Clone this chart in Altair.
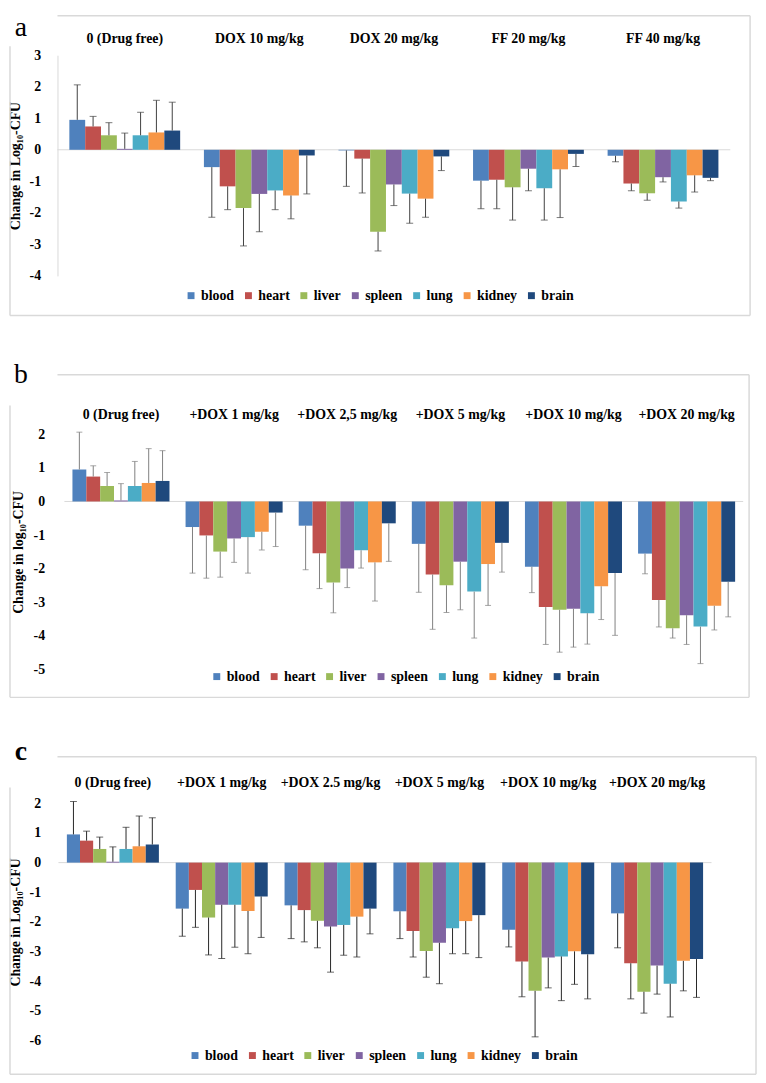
import altair as alt
import pandas as pd

ORGANS = ["blood", "heart", "liver", "spleen", "lung", "kidney", "brain"]
COLORS = ["#4F81BD", "#C0504D", "#9BBB59", "#8064A2", "#4BACC6", "#F79646", "#1F497D"]

DRUG_FREE_MEAN = [0.95, 0.74, 0.46, 0.03, 0.46, 0.55, 0.61]
DRUG_FREE_END = [2.06, 1.06, 0.86, 0.53, 1.19, 1.57, 1.51]

A_GROUPS = ["0 (Drug free)", "DOX 10 mg/kg", "DOX 20 mg/kg", "FF 20 mg/kg", "FF 40 mg/kg"]
A_MEAN = [
    DRUG_FREE_MEAN,
    [-0.55, -1.16, -1.85, -1.40, -1.29, -1.45, -0.18],
    [-0.02, -0.28, -2.60, -1.10, -1.39, -1.55, -0.21],
    [-0.98, -0.95, -1.19, -0.60, -1.22, -0.62, -0.13],
    [-0.19, -1.07, -1.38, -0.87, -1.64, -0.81, -0.89],
]
A_END = [
    DRUG_FREE_END,
    [-2.14, -1.90, -3.05, -2.60, -1.90, -2.19, -1.40],
    [-1.16, -1.37, -3.21, -1.77, -2.33, -2.14, -0.66],
    [-1.87, -1.87, -2.23, -1.30, -2.23, -2.15, -0.53],
    [-0.38, -1.30, -1.60, -1.02, -1.85, -1.34, -0.98],
]

B_GROUPS = ["0 (Drug free)", "+DOX 1 mg/kg", "+DOX 2,5 mg/kg", "+DOX 5 mg/kg",
            "+DOX 10 mg/kg", "+DOX 20 mg/kg"]
B_MEAN = [
    DRUG_FREE_MEAN,
    [-0.76, -1.01, -1.49, -1.10, -1.06, -0.90, -0.33],
    [-0.72, -1.54, -2.41, -1.99, -1.45, -1.81, -0.65],
    [-1.26, -2.17, -2.49, -1.79, -2.68, -1.86, -1.23],
    [-1.94, -3.14, -3.22, -3.19, -3.32, -2.52, -2.13],
    [-1.55, -2.93, -3.77, -3.38, -3.72, -3.10, -2.39],
]
B_END = [
    DRUG_FREE_END,
    [-2.13, -2.28, -2.25, -1.81, -2.13, -1.44, -1.34],
    [-2.03, -2.59, -3.31, -2.56, -1.98, -2.96, -1.78],
    [-2.70, -3.80, -3.30, -3.22, -4.06, -3.09, -2.10],
    [-2.71, -4.25, -4.48, -4.33, -4.24, -3.51, -3.98],
    [-2.15, -3.73, -4.06, -4.25, -4.82, -3.82, -3.43],
]

C_GROUPS = ["0 (Drug free)", "+DOX 1 mg/kg", "+DOX 2.5 mg/kg", "+DOX 5 mg/kg",
            "+DOX 10 mg/kg", "+DOX 20 mg/kg"]
C_MEAN = [
    DRUG_FREE_MEAN,
    [-1.55, -0.92, -1.85, -1.42, -1.42, -1.63, -1.14],
    [-1.44, -1.60, -1.96, -2.15, -2.10, -1.82, -1.55],
    [-1.64, -2.30, -2.98, -2.70, -2.21, -1.97, -1.77],
    [-2.26, -3.33, -4.32, -3.20, -3.16, -2.99, -3.09],
    [-1.71, -3.39, -4.35, -3.47, -4.08, -3.31, -3.25],
]
C_END = [
    DRUG_FREE_END,
    [-2.48, -2.18, -3.11, -3.23, -2.85, -3.07, -2.52],
    [-2.56, -2.67, -2.87, -3.69, -3.12, -3.18, -2.40],
    [-2.56, -3.18, -3.86, -4.08, -3.07, -3.07, -3.20],
    [-2.84, -4.52, -5.87, -4.22, -4.65, -4.10, -4.59],
    [-2.87, -4.59, -5.07, -4.43, -5.20, -4.32, -4.54],
]

FONT = "Liberation Serif, Times New Roman, serif"
FRAME = "#D9D9D9"
ONE = alt.Data(values=[{"k": 0}])


def panel(letter, letter_bold, letter_y, groups, mean, end, ymin, ymax, ytitle,
          W, H, L, R, ytop, ybot, po, label_y, legx, legy, lab_pad, title_x,
          cap, err_color, show_domain):
    rows = []
    for i, g in enumerate(groups):
        for j, o in enumerate(ORGANS):
            rows.append({"group": g, "organ": o, "value": mean[i][j], "end": end[i][j]})
    df = pd.DataFrame(rows)
    gdf = pd.DataFrame({"group": groups})

    x = alt.X("group:N", sort=groups,
              scale=alt.Scale(range=[L, R], paddingInner=0, paddingOuter=0),
              axis=None)
    xo = alt.XOffset("organ:N", sort=ORGANS,
                     scale=alt.Scale(paddingInner=0, paddingOuter=po))

    def yenc(field):
        return alt.Y(field, type="quantitative",
                     scale=alt.Scale(domain=[ymin, ymax], range=[ybot, ytop],
                                     nice=False, zero=False),
                     axis=alt.Axis(values=list(range(ymin, ymax + 1)), title=ytitle,
                                   grid=False, ticks=False, domain=show_domain,
                                   domainColor=FRAME, domainWidth=1,
                                   offset=-L, labelPadding=lab_pad,
                                   labelFont=FONT, labelFontSize=14,
                                   labelFontWeight="bold", labelColor="black",
                                   labelFlush=False,
                                   labelExpr="datum.value < 0 ? '-' + abs(datum.value) : '' + datum.value",
                                   titleFont=FONT, titleFontSize=14,
                                   titleFontWeight="bold", titleColor="black",
                                   titleX=title_x, titleBaseline="middle"))

    color = alt.Color("organ:N", sort=ORGANS,
                      scale=alt.Scale(domain=ORGANS, range=COLORS),
                      legend=alt.Legend(orient="none", legendX=legx, legendY=legy,
                                        direction="horizontal", columns=7, title=None,
                                        symbolType="square", symbolSize=49,
                                        symbolStrokeWidth=0, labelFont=FONT,
                                        labelFontSize=14, labelFontWeight="bold",
                                        labelColor="black", labelOffset=3,
                                        columnPadding=7, padding=0))

    base = alt.Chart(df)
    zero = alt.Chart(ONE).mark_rule(color=FRAME, strokeWidth=1).encode(
        y=alt.datum(0), x=alt.value(L), x2=alt.value(R))
    bars = base.mark_bar().encode(x=x, xOffset=xo, y=yenc("value"), color=color)
    errs = base.mark_rule(color=err_color, strokeWidth=1).encode(
        x=x, xOffset=xo, y=yenc("value"), y2="end:Q")
    caps = base.mark_tick(color=err_color, size=cap, thickness=1).encode(
        x=x, xOffset=xo, y=yenc("end"))
    glabels = alt.Chart(gdf).mark_text(
        font=FONT, fontSize=14, fontWeight="bold", color="black",
        align="center", baseline="middle").encode(
        x=x, y=alt.value(label_y), text="group:N")

    top = alt.Chart(ONE).mark_rule(color=FRAME, strokeWidth=1.5).encode(
        x=alt.value(49), x2=alt.value(W), y=alt.value(1))
    right = alt.Chart(ONE).mark_rule(color=FRAME, strokeWidth=1.5).encode(
        x=alt.value(W), y=alt.value(1), y2=alt.value(H))
    bottom = alt.Chart(ONE).mark_rule(color=FRAME, strokeWidth=1.5).encode(
        x=alt.value(1), x2=alt.value(W), y=alt.value(H))
    left = alt.Chart(ONE).mark_rule(color=FRAME, strokeWidth=1.5).encode(
        x=alt.value(1), y=alt.value(32), y2=alt.value(H))
    let = alt.Chart(ONE).mark_text(
        text=letter, font=FONT, fontSize=28,
        fontWeight="bold" if letter_bold else "normal",
        align="center", baseline="alphabetic", color="black").encode(
        x=alt.value(12), y=alt.value(letter_y))

    return alt.layer(top, right, bottom, left, zero, bars, errs, caps, glabels,
                     let).properties(width=W, height=H)


pa = panel("a", False, 22, A_GROUPS, A_MEAN, A_END, -4, 3, "Change in Log\u2081\u2080-CFU",
           W=749, H=304, L=49, R=729, ytop=41, ybot=264, po=0.75, label_y=25,
           legx=177, legy=277, lab_pad=17, title_x=-42, cap=7,
           err_color="#404040", show_domain=True)

pb = panel("b", False, 9, B_GROUPS, B_MEAN, B_END, -5, 2, "Change in log\u2081\u2080-CFU",
           W=748, H=327, L=56, R=742, ytop=61, ybot=299, po=0.58, label_y=42,
           legx=203, legy=299, lab_pad=20, title_x=-46, cap=6,
           err_color="#808080", show_domain=False)

pc = panel("c", True, 4, C_GROUPS, C_MEAN, C_END, -6, 2, "Change in Log\u2081\u2080-CFU",
           W=755, H=322, L=50, R=710, ytop=48, ybot=288, po=0.64, label_y=28,
           legx=181, legy=296, lab_pad=18, title_x=-43, cap=7,
           err_color="#262626", show_domain=False)

chart = alt.vconcat(pa, pb, pc, spacing=59, bounds="flush").resolve_scale(
    x="independent", y="independent", color="independent", xOffset="independent"
).resolve_legend(color="independent").properties(padding=0).configure_view(
    stroke="transparent")

chart.save("out.html", embed_options={"renderer": "svg", "actions": False})
